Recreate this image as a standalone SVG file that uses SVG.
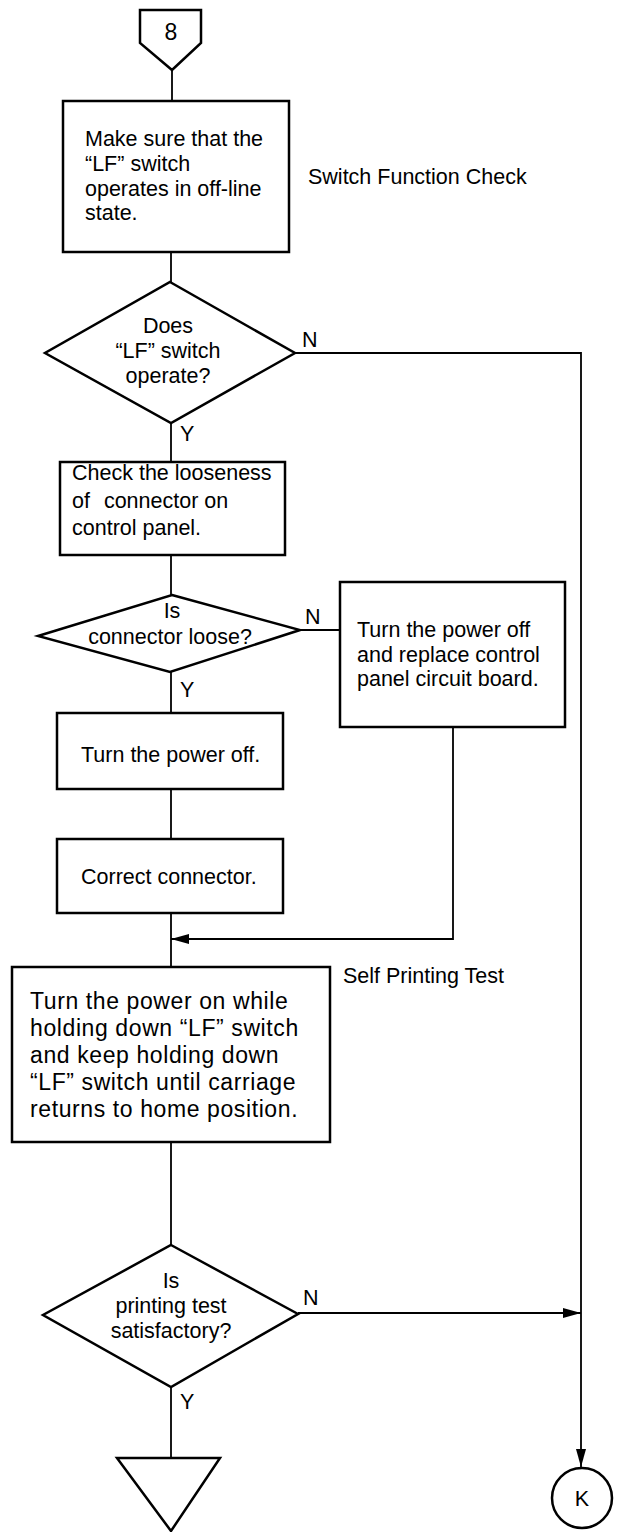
<svg xmlns="http://www.w3.org/2000/svg" width="621" height="1532" viewBox="0 0 621 1532">
<style>
.s{fill:#fff;stroke:#000;stroke-width:2.5;stroke-linejoin:miter}
.c{fill:none;stroke:#000;stroke-width:1.8}
text{font-family:"Liberation Sans",Arial,sans-serif;font-size:21.5px;fill:#000}
.m{text-anchor:middle}
.big{font-size:23px;letter-spacing:0.6px}
</style>
<defs>
<marker id="ah" viewBox="0 0 18 10" refX="18" refY="5" markerWidth="18" markerHeight="10" markerUnits="userSpaceOnUse" orient="auto">
<path d="M0,0 L18,5 L0,10 Z" fill="#000"/>
</marker>
</defs>
<g id="connectors">
<line class="c" x1="172" y1="70" x2="172" y2="101"/>
<line class="c" x1="171" y1="252" x2="171" y2="282"/>
<line class="c" x1="171" y1="423" x2="171" y2="462"/>
<line class="c" x1="171" y1="555" x2="171" y2="595"/>
<line class="c" x1="171" y1="672" x2="171" y2="713"/>
<line class="c" x1="171" y1="789" x2="171" y2="839"/>
<line class="c" x1="171" y1="913" x2="171" y2="967"/>
<line class="c" x1="171" y1="1142" x2="171" y2="1245"/>
<line class="c" x1="171" y1="1387" x2="171" y2="1458"/>
<polyline class="c" points="295,353 581,353 581,1467" marker-end="url(#ah)"/>
<line class="c" x1="298" y1="1313" x2="581" y2="1313" marker-end="url(#ah)"/>
<line class="c" x1="300" y1="630" x2="340" y2="630"/>
<polyline class="c" points="453,727 453,939 171,939" marker-end="url(#ah)"/>
</g>
<g id="start8">
<polygon class="s" points="140,10 201,10 201,43 172,70 140,43"/>
<text class="m" x="171" y="40" style="font-size:23px">8</text>
</g>
<g id="box1">
<rect class="s" x="63" y="101" width="226" height="151"/>
<text x="85" y="146">Make sure that the</text>
<text x="85" y="171">“LF” switch</text>
<text x="85" y="196">operates in off-line</text>
<text x="85" y="220">state.</text>
</g>
<text id="label1" x="308" y="184">Switch Function Check</text>
<g id="dec1">
<polygon class="s" points="170,282 295,353 171,423 45,353"/>
<text class="m" x="168" y="333">Does</text>
<text class="m" x="168" y="358">“LF” switch</text>
<text class="m" x="168" y="383">operate?</text>
<text x="302" y="347">N</text>
<text x="180" y="441">Y</text>
</g>
<g id="box3">
<rect class="s" x="60" y="462" width="225" height="93"/>
<text x="72" y="480">Check the looseness</text>
<text x="72" y="508">of <tspan dx="8">connector on</tspan></text>
<text x="72" y="535">control panel.</text>
</g>
<g id="dec2">
<polygon class="s" points="172,595 300,630 170,672 38,636"/>
<text class="m" x="172" y="618">Is</text>
<text class="m" x="170" y="644">connector loose?</text>
<text x="305" y="624">N</text>
<text x="180" y="697">Y</text>
</g>
<g id="boxReplace">
<rect class="s" x="340" y="582" width="225" height="145"/>
<text x="357" y="637">Turn the power off</text>
<text x="357" y="662">and replace control</text>
<text x="357" y="686">panel circuit board.</text>
</g>
<g id="boxOff">
<rect class="s" x="57" y="713" width="226" height="76"/>
<text x="81" y="762">Turn the power off.</text>
</g>
<g id="boxCorrect">
<rect class="s" x="57" y="839" width="226" height="74"/>
<text x="81" y="884">Correct connector.</text>
</g>
<text id="label2" x="343" y="983">Self Printing Test</text>
<g id="boxSelf">
<rect class="s" x="12" y="967" width="318" height="175"/>
<text class="big" x="30" y="1009">Turn the power on while</text>
<text class="big" x="30" y="1036">holding down “LF” switch</text>
<text class="big" x="30" y="1063">and keep holding down</text>
<text class="big" x="30" y="1090">“LF” switch until carriage</text>
<text class="big" x="30" y="1117">returns to home position.</text>
</g>
<g id="dec3">
<polygon class="s" points="171,1245 298,1314 171,1387 43,1315"/>
<text class="m" x="171" y="1288">Is</text>
<text class="m" x="171" y="1313">printing test</text>
<text class="m" x="171" y="1338">satisfactory?</text>
<text x="303" y="1305">N</text>
<text x="180" y="1409">Y</text>
</g>
<g id="endTri">
<polygon class="s" points="117,1458 220,1458 171,1531"/>
</g>
<g id="connK">
<circle class="s" cx="582" cy="1498" r="30"/>
<text class="m" x="582" y="1506">K</text>
</g>
</svg>
